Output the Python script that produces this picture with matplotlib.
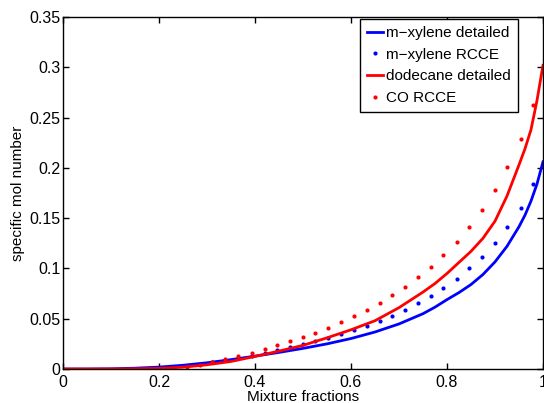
import matplotlib
matplotlib.use("Agg")
import matplotlib.pyplot as plt
from matplotlib.ticker import FormatStrFormatter

plt.rcParams['font.family'] = ['Liberation Sans', 'DejaVu Sans']

# solid curves (detailed chemistry)
x_line = [0, 0.05, 0.1, 0.15, 0.2, 0.25, 0.3, 0.35, 0.4, 0.45, 0.5, 0.55, 0.6,
          0.65, 0.7, 0.75, 0.775, 0.8, 0.825, 0.85, 0.875, 0.9, 0.925, 0.95,
          0.9625, 0.975, 0.9875, 1.0]
xylene_detailed = [0, 0, 0.0002, 0.0008, 0.0019, 0.0037, 0.0062, 0.0093, 0.0128,
                   0.0165, 0.0205, 0.025, 0.0303, 0.0368, 0.0448, 0.055, 0.0615,
                   0.069, 0.076, 0.084, 0.094, 0.1065, 0.122, 0.1415,
                   0.153, 0.167, 0.184, 0.206]
dodecane_detailed = [0, 0, 0, 0.0002, 0.0006, 0.0018, 0.0042, 0.0075, 0.0125,
                     0.0178, 0.0235, 0.031, 0.039, 0.048, 0.061, 0.0765, 0.085,
                     0.095, 0.106, 0.117, 0.130, 0.147, 0.172, 0.203,
                     0.219, 0.238, 0.267, 0.302]

# dotted RCCE results
x_dots = [0.177, 0.203, 0.231, 0.258, 0.285, 0.311, 0.338, 0.365, 0.393, 0.420,
          0.446, 0.473, 0.500, 0.526, 0.553, 0.580, 0.606, 0.633, 0.660, 0.686,
          0.713, 0.739, 0.766, 0.792, 0.820, 0.846, 0.872, 0.900, 0.926, 0.954, 0.979]
xylene_rcce = [0.0003, 0.001, 0.002, 0.003, 0.0045, 0.0065, 0.0085, 0.011, 0.013, 0.0156,
               0.0189, 0.0216, 0.0245, 0.0278, 0.0308, 0.0345, 0.0385, 0.0428, 0.0477, 0.053,
               0.0587, 0.0653, 0.0726, 0.0805, 0.0895, 0.100, 0.1117, 0.1253, 0.1412, 0.1604, 0.1836]
co_rcce = [0.0, 0.0, 0.0003, 0.0023, 0.0043, 0.007, 0.0096, 0.0126, 0.0162, 0.0196,
           0.0235, 0.0275, 0.0315, 0.0361, 0.0411, 0.0467, 0.0524, 0.0587, 0.066, 0.0733,
           0.0819, 0.0911, 0.1014, 0.113, 0.126, 0.141, 0.158, 0.178, 0.201, 0.229, 0.2625]

fig = plt.figure(figsize=(5.44, 4.03), dpi=100)
ax = fig.add_axes([63/544, 34/403, 480/544, 352/403])

ax.plot(x_line, xylene_detailed, color='#0000ff', lw=2, label='m\u2212xylene detailed')
ax.plot(x_dots, xylene_rcce, 'o', color='#0000ff', ms=3, mew=0, label='m\u2212xylene RCCE')
ax.plot(x_line, dodecane_detailed, color='#ff0000', lw=2, label='dodecane detailed')
ax.plot(x_dots, co_rcce, 'o', color='#ff0000', ms=3, mew=0, label='CO RCCE')

ax.set_xlim(0, 1)
ax.set_ylim(0, 0.35)
ax.set_xticks([0, 0.2, 0.4, 0.6, 0.8, 1])
ax.set_yticks([0, 0.05, 0.1, 0.15, 0.2, 0.25, 0.3, 0.35])
ax.xaxis.set_major_formatter(FormatStrFormatter('%g'))
ax.yaxis.set_major_formatter(FormatStrFormatter('%g'))
ax.tick_params(direction='in', top=True, right=True, length=4, width=1,
               labelsize=11.5, pad=2)
ax.tick_params(axis='x', pad=4)
for s in ax.spines.values():
    s.set_linewidth(1.0)

ax.set_xlabel('Mixture fractions', fontsize=11, labelpad=0)
ax.set_ylabel('specific mol number', fontsize=11, labelpad=3)

leg = ax.legend(loc='upper right', bbox_to_anchor=(0.948, 0.994), fontsize=11,
                frameon=True, fancybox=False, framealpha=1, edgecolor='black',
                handlelength=1.1, handletextpad=0.2, borderpad=0.45,
                labelspacing=0.5, borderaxespad=0)
leg.get_frame().set_linewidth(1.0)

fig.savefig('out.png', dpi=100)
